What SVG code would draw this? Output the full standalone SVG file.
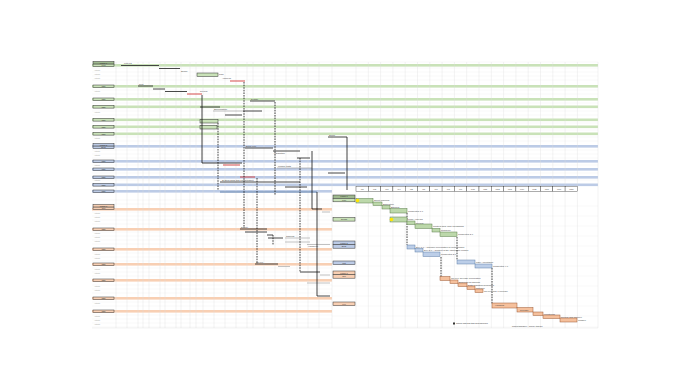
<svg xmlns="http://www.w3.org/2000/svg" width="690" height="388" viewBox="0 0 690 388">
<style>
.t{font-family:"Liberation Sans",Arial,sans-serif;font-size:2.3px;fill:#444}
.th{font-family:"Liberation Sans",Arial,sans-serif;font-size:2px;fill:#333}
.ts{font-family:"Liberation Sans",Arial,sans-serif;font-size:2px;fill:#999}
.grid line{stroke:#dcdcdc;stroke-width:0.35}
.rows line{stroke:#e8e8e8;stroke-width:0.3}
.bg{fill:#c9e2b8}
.bb{fill:#bccbe6}
.bo{fill:#f8cfb3}
.lg{fill:#c9e2b8;stroke:#333;stroke-width:0.5}
.lb{fill:#bccbe6;stroke:#333;stroke-width:0.5}
.lo{fill:#f8cfb3;stroke:#333;stroke-width:0.5}
.tk{stroke:#333;stroke-width:0.9}
.tr{stroke:#d23a3a;stroke-width:0.9}
.tg{stroke:#999;stroke-width:0.6}
.dash{stroke:#111;stroke-width:0.8;stroke-dasharray:1.6 1;fill:none}
.sol{stroke:#111;stroke-width:0.8;fill:none}
.gg{fill:#bcd8aa;stroke:#5d7e4c;stroke-width:0.5}
.gb{fill:#bccee8;stroke:#5f7fa8;stroke-width:0.5}
.go{fill:#f5c09c;stroke:#9c5a35;stroke-width:0.5}
.hc{fill:#fff;stroke:#333;stroke-width:0.4}
</style>
<rect width="690" height="388" fill="#fff"/>

<g id="rows" class="rows">
<line x1="92" y1="62" x2="598" y2="62"/><line x1="92" y1="68" x2="598" y2="68"/><line x1="92" y1="72" x2="598" y2="72"/><line x1="92" y1="76" x2="598" y2="76"/><line x1="92" y1="80" x2="598" y2="80"/><line x1="92" y1="90" x2="598" y2="90"/><line x1="92" y1="94" x2="598" y2="94"/><line x1="92" y1="103" x2="598" y2="103"/><line x1="92" y1="111" x2="598" y2="111"/><line x1="92" y1="115" x2="598" y2="115"/><line x1="92" y1="123" x2="598" y2="123"/><line x1="92" y1="130" x2="598" y2="130"/><line x1="92" y1="137" x2="598" y2="137"/><line x1="92" y1="141" x2="598" y2="141"/><line x1="92" y1="150" x2="598" y2="150"/><line x1="92" y1="154" x2="598" y2="154"/><line x1="92" y1="158" x2="598" y2="158"/><line x1="92" y1="165" x2="598" y2="165"/><line x1="92" y1="173" x2="598" y2="173"/><line x1="92" y1="180" x2="598" y2="180"/>
<line x1="92" y1="200" x2="332" y2="200"/><line x1="92" y1="204" x2="332" y2="204"/><line x1="92" y1="212" x2="332" y2="212"/><line x1="92" y1="216" x2="332" y2="216"/><line x1="92" y1="220" x2="332" y2="220"/><line x1="92" y1="224" x2="332" y2="224"/><line x1="92" y1="232" x2="332" y2="232"/><line x1="92" y1="236" x2="332" y2="236"/><line x1="92" y1="240" x2="332" y2="240"/><line x1="92" y1="244" x2="332" y2="244"/><line x1="92" y1="253" x2="332" y2="253"/><line x1="92" y1="257" x2="332" y2="257"/><line x1="92" y1="261" x2="332" y2="261"/><line x1="92" y1="268" x2="332" y2="268"/><line x1="92" y1="272" x2="332" y2="272"/><line x1="92" y1="276" x2="332" y2="276"/><line x1="92" y1="285" x2="332" y2="285"/><line x1="92" y1="289" x2="332" y2="289"/><line x1="92" y1="293" x2="332" y2="293"/><line x1="92" y1="302" x2="332" y2="302"/><line x1="92" y1="306" x2="332" y2="306"/><line x1="92" y1="315" x2="332" y2="315"/><line x1="92" y1="319" x2="332" y2="319"/><line x1="92" y1="323" x2="332" y2="323"/><line x1="92" y1="327" x2="332" y2="327"/>
<line x1="332" y1="206" x2="598" y2="206"/><line x1="332" y1="216" x2="598" y2="216"/><line x1="332" y1="226" x2="598" y2="226"/><line x1="332" y1="236" x2="598" y2="236"/><line x1="332" y1="246" x2="598" y2="246"/><line x1="332" y1="256" x2="598" y2="256"/><line x1="332" y1="266" x2="598" y2="266"/><line x1="332" y1="276" x2="598" y2="276"/><line x1="332" y1="286" x2="598" y2="286"/><line x1="332" y1="296" x2="598" y2="296"/><line x1="332" y1="306" x2="598" y2="306"/><line x1="332" y1="316" x2="598" y2="316"/><line x1="332" y1="327" x2="598" y2="327"/>
</g>

<g id="bands">
<rect class="bg" x="92" y="64" width="506" height="2.6"/>
<rect class="bg" x="92" y="85" width="506" height="2.6"/>
<rect class="bg" x="92" y="98" width="506" height="2.6"/>
<rect class="bg" x="92" y="105.5" width="506" height="2.6"/>
<rect class="bg" x="92" y="118.5" width="506" height="2.6"/>
<rect class="bg" x="92" y="125.5" width="506" height="2.6"/>
<rect class="bg" x="92" y="132.5" width="506" height="2.6"/>
<rect class="bb" x="92" y="145" width="506" height="2.6"/>
<rect class="bb" x="92" y="160" width="506" height="2.6"/>
<rect class="bb" x="92" y="168" width="506" height="2.6"/>
<rect class="bb" x="92" y="176" width="506" height="2.6"/>
<rect class="bb" x="92" y="183.5" width="506" height="2.6"/>
<rect class="bb" x="92" y="190" width="240" height="2.6"/>
<rect class="bo" x="92" y="208" width="240" height="2.6"/>
<rect class="bo" x="92" y="228" width="240" height="2.6"/>
<rect class="bo" x="92" y="248" width="240" height="2.6"/>
<rect class="bo" x="92" y="263" width="240" height="2.6"/>
<rect class="bo" x="92" y="279" width="240" height="2.6"/>
<rect class="bo" x="92" y="297" width="240" height="2.6"/>
<rect class="bo" x="92" y="310" width="240" height="2.6"/>
</g>

<g id="grid" class="grid">
<line x1="116" y1="62" x2="116" y2="328"/><line x1="127" y1="62" x2="127" y2="328"/><line x1="138" y1="62" x2="138" y2="328"/><line x1="143" y1="62" x2="143" y2="328"/><line x1="149" y1="62" x2="149" y2="328"/><line x1="160" y1="62" x2="160" y2="328"/><line x1="165" y1="62" x2="165" y2="328"/><line x1="176" y1="62" x2="176" y2="328"/><line x1="181" y1="62" x2="181" y2="328"/><line x1="190" y1="62" x2="190" y2="328"/><line x1="196" y1="62" x2="196" y2="328"/><line x1="203" y1="62" x2="203" y2="328"/><line x1="214" y1="62" x2="214" y2="328"/><line x1="225" y1="62" x2="225" y2="328"/><line x1="236" y1="62" x2="236" y2="328"/><line x1="247" y1="62" x2="247" y2="328"/><line x1="253" y1="62" x2="253" y2="328"/><line x1="264" y1="62" x2="264" y2="328"/><line x1="275" y1="62" x2="275" y2="328"/><line x1="286" y1="62" x2="286" y2="328"/><line x1="297" y1="62" x2="297" y2="328"/><line x1="308" y1="62" x2="308" y2="328"/><line x1="319" y1="62" x2="319" y2="328"/><line x1="332" y1="62" x2="332" y2="328"/>
<line x1="356" y1="62" x2="356" y2="328"/><line x1="368.3" y1="62" x2="368.3" y2="328"/><line x1="380.6" y1="62" x2="380.6" y2="328"/><line x1="392.9" y1="62" x2="392.9" y2="328"/><line x1="405.2" y1="62" x2="405.2" y2="328"/><line x1="417.5" y1="62" x2="417.5" y2="328"/><line x1="429.8" y1="62" x2="429.8" y2="328"/><line x1="442.1" y1="62" x2="442.1" y2="328"/><line x1="454.4" y1="62" x2="454.4" y2="328"/><line x1="466.7" y1="62" x2="466.7" y2="328"/><line x1="479" y1="62" x2="479" y2="328"/><line x1="491.3" y1="62" x2="491.3" y2="328"/><line x1="503.6" y1="62" x2="503.6" y2="328"/><line x1="515.9" y1="62" x2="515.9" y2="328"/><line x1="528.2" y1="62" x2="528.2" y2="328"/><line x1="540.5" y1="62" x2="540.5" y2="328"/><line x1="552.8" y1="62" x2="552.8" y2="328"/><line x1="565.1" y1="62" x2="565.1" y2="328"/><line x1="577.4" y1="62" x2="577.4" y2="328"/><line x1="598" y1="62" x2="598" y2="328"/>
<line x1="92" y1="328" x2="598" y2="328"/>
</g>

<g id="sub-labels">
<text class="ts" x="94" y="71">Activity</text><text class="ts" x="94" y="75">Activity</text><text class="ts" x="94" y="79">Activity</text>
<text class="ts" x="94" y="92">Activity</text><text class="ts" x="94" y="113">Activity</text><text class="ts" x="94" y="139">Activity</text>
<text class="ts" x="94" y="152">Activity</text><text class="ts" x="94" y="156">Activity</text><text class="ts" x="94" y="166">Activity</text><text class="ts" x="94" y="181">Activity</text>
<text class="ts" x="94" y="214">Activity</text><text class="ts" x="94" y="218">Activity</text><text class="ts" x="94" y="222">Activity</text><text class="ts" x="94" y="234">Activity</text><text class="ts" x="94" y="238">Activity</text><text class="ts" x="94" y="242">Activity</text>
<text class="ts" x="94" y="255">Activity</text><text class="ts" x="94" y="259">Activity</text><text class="ts" x="94" y="270">Activity</text><text class="ts" x="94" y="274">Activity</text><text class="ts" x="94" y="287">Activity</text><text class="ts" x="94" y="291">Activity</text>
<text class="ts" x="94" y="304">Activity</text><text class="ts" x="94" y="317">Activity</text><text class="ts" x="94" y="321">Activity</text><text class="ts" x="94" y="325">Activity</text>
</g>

<g id="left-labels">
<g id="L1"><rect x="93" y="61.5" width="21" height="2.6" fill="#9fb98f" stroke="#333" stroke-width="0.5"/><rect class="lg" x="93" y="64.1" width="21" height="2.6"/><text class="th" x="103.5" y="63.5" text-anchor="middle">Phase 1</text><text class="th" x="103.5" y="66.2" text-anchor="middle">Plan</text></g>
<g id="L2"><rect class="lg" x="93" y="85" width="21" height="2.6"/><text class="th" x="103.5" y="87.1" text-anchor="middle">Task</text></g>
<g id="L3"><rect class="lg" x="93" y="98" width="21" height="2.6"/><text class="th" x="103.5" y="100.1" text-anchor="middle">Task</text></g>
<g id="L4"><rect class="lg" x="93" y="105.5" width="21" height="2.6"/><text class="th" x="103.5" y="107.6" text-anchor="middle">Task</text></g>
<g id="L5"><rect class="lg" x="93" y="118.5" width="21" height="2.6"/><text class="th" x="103.5" y="120.6" text-anchor="middle">Task</text></g>
<g id="L6"><rect class="lg" x="93" y="125.5" width="21" height="2.6"/><text class="th" x="103.5" y="127.6" text-anchor="middle">Task</text></g>
<g id="L7"><rect class="lg" x="93" y="132.5" width="21" height="2.6"/><text class="th" x="103.5" y="134.6" text-anchor="middle">Task</text></g>
<g id="L8"><rect class="lb" x="93" y="143.5" width="21" height="2.6"/><rect class="lb" x="93" y="146.1" width="21" height="2.6"/><text class="th" x="103.5" y="145.5" text-anchor="middle">Phase 2</text><text class="th" x="103.5" y="148.2" text-anchor="middle">Build</text></g>
<g id="L9"><rect class="lb" x="93" y="160" width="21" height="2.6"/><text class="th" x="103.5" y="162.1" text-anchor="middle">Task</text></g>
<g id="L10"><rect class="lb" x="93" y="168" width="21" height="2.6"/><text class="th" x="103.5" y="170.1" text-anchor="middle">Task</text></g>
<g id="L11"><rect class="lb" x="93" y="176" width="21" height="2.6"/><text class="th" x="103.5" y="178.1" text-anchor="middle">Task</text></g>
<g id="L12"><rect class="lb" x="93" y="183.5" width="21" height="2.6"/><text class="th" x="103.5" y="185.6" text-anchor="middle">Task</text></g>
<g id="L13"><rect class="lb" x="93" y="190" width="21" height="2.6"/><text class="th" x="103.5" y="192.1" text-anchor="middle">Task</text></g>
<g id="L14"><rect class="lo" x="93" y="204.5" width="21" height="2.6"/><rect class="lo" x="93" y="207.1" width="21" height="2.6"/><text class="th" x="103.5" y="206.5" text-anchor="middle">Phase 3</text><text class="th" x="103.5" y="209.2" text-anchor="middle">Run</text></g>
<g id="L15"><rect class="lo" x="93" y="228" width="21" height="2.6"/><text class="th" x="103.5" y="230.1" text-anchor="middle">Task</text></g>
<g id="L16"><rect class="lo" x="93" y="248" width="21" height="2.6"/><text class="th" x="103.5" y="250.1" text-anchor="middle">Task</text></g>
<g id="L17"><rect class="lo" x="93" y="263" width="21" height="2.6"/><text class="th" x="103.5" y="265.1" text-anchor="middle">Task</text></g>
<g id="L18"><rect class="lo" x="93" y="279" width="21" height="2.6"/><text class="th" x="103.5" y="281.1" text-anchor="middle">Task</text></g>
<g id="L19"><rect class="lo" x="93" y="297" width="21" height="2.6"/><text class="th" x="103.5" y="299.1" text-anchor="middle">Task</text></g>
<g id="L20"><rect class="lo" x="93" y="310" width="21" height="2.6"/><text class="th" x="103.5" y="312.1" text-anchor="middle">Task</text></g>
</g>

<g id="left-tasks">
<line class="tk" x1="121" y1="65.5" x2="159" y2="65.5"/><text class="t" x="124" y="64">Kick-off</text>
<line class="tk" x1="159" y1="68.5" x2="180" y2="68.5"/><text class="t" x="181" y="71.5">Scope</text>
<rect class="lg" x="197" y="73" width="21" height="3.5"/><text class="t" x="219" y="74.5">Plan</text>
<line class="tk" x1="138" y1="86" x2="153" y2="86"/><text class="t" x="139" y="84.5">Req.</text>
<line class="tk" x1="153" y1="89" x2="165" y2="89"/>
<line class="tk" x1="165" y1="91.5" x2="187" y2="91.5"/><text class="t" x="200" y="91.5">Review</text>
<line class="tr" x1="187" y1="94" x2="202" y2="94"/>
<line class="tr" x1="230" y1="81" x2="245" y2="81"/><text class="t" x="222" y="79">Approval</text>
<line class="tk" x1="250" y1="101" x2="275" y2="101"/><text class="t" x="251" y="99.5">Design</text>
<line class="tk" x1="200" y1="107" x2="220" y2="107"/>
<line class="tg" x1="213" y1="111" x2="243" y2="111"/><text class="t" x="214" y="110">Specification</text>
<line class="tk" x1="243" y1="111" x2="262" y2="111"/>
<line class="tk" x1="225" y1="115" x2="242" y2="115"/>
<rect class="lg" x="200" y="119.5" width="18" height="3.5"/>
<rect class="lg" x="200" y="125.5" width="17" height="3.5"/>
<line class="tk" x1="328" y1="137" x2="347" y2="137"/><text class="t" x="329" y="135.5">Setup</text>
<line class="tk" x1="245" y1="148" x2="273" y2="148"/><text class="t" x="246" y="146.5">Build core</text>
<line class="tk" x1="273" y1="151" x2="300" y2="151"/><text class="t" x="274" y="154">Integration</text>
<line class="tk" x1="297" y1="158" x2="310" y2="158"/>
<line class="tr" x1="223" y1="165" x2="240" y2="165"/>
<line class="tg" x1="277" y1="168" x2="312" y2="168"/><text class="t" x="278" y="167">Module tests</text>
<line class="tk" x1="328" y1="173" x2="345" y2="173"/>
<line class="tr" x1="240" y1="177" x2="255" y2="177"/>
<line class="tk" x1="220" y1="182" x2="300" y2="182"/><text class="t" x="222" y="180.5">System build and configuration</text>
<line class="tk" x1="285" y1="187" x2="307" y2="187"/>
<line stroke="#5f7fa8" stroke-width="0.9" x1="220" y1="192" x2="317" y2="192"/>
<line class="tk" x1="312" y1="209" x2="322" y2="209"/>
<line class="tg" x1="322" y1="212" x2="330" y2="212"/>
<line class="tk" x1="240" y1="229" x2="267" y2="229"/><text class="t" x="241" y="227.5">Deploy</text>
<line class="tk" x1="245" y1="232" x2="267" y2="232"/>
<line class="tk" x1="267" y1="235" x2="273" y2="235"/>
<line class="tk" x1="268" y1="238" x2="283" y2="238"/>
<line class="tg" x1="285" y1="238" x2="310" y2="238"/><text class="t" x="286" y="237">Training</text>
<line class="tg" x1="285" y1="242" x2="310" y2="242"/>
<line class="tg" x1="307" y1="244.5" x2="330" y2="244.5"/><text class="t" x="308" y="247">Handover</text>
<line class="tk" x1="255" y1="264" x2="278" y2="264"/><text class="t" x="256" y="262.5">Go-live</text>
<line class="tg" x1="278" y1="266.5" x2="290" y2="266.5"/>
<line class="tk" x1="300" y1="272" x2="320" y2="272"/>
<line class="tg" x1="320" y1="275" x2="330" y2="275"/>
<line class="tg" x1="307" y1="283" x2="330" y2="283"/>
<line class="tk" x1="317" y1="296" x2="330" y2="296"/>
</g>

<g id="connectors">
<polyline class="sol" points="202,95 202,163 242,163"/>
<line class="dash" x1="218" y1="123" x2="218" y2="190"/>
<line class="dash" x1="244" y1="82" x2="244" y2="228"/>
<line class="dash" x1="275" y1="102" x2="275" y2="195"/>
<line class="dash" x1="257" y1="178" x2="257" y2="264"/>
<line class="dash" x1="300" y1="158" x2="300" y2="272"/>
<line class="sol" x1="312" y1="151" x2="312" y2="209"/>
<line class="sol" x1="317" y1="192" x2="317" y2="296"/>
<line class="sol" x1="347" y1="137" x2="347" y2="190"/>
<line class="dash" x1="273" y1="235" x2="273" y2="245"/>
<line class="dash" x1="407" y1="213" x2="407" y2="245"/>
<line class="dash" x1="441" y1="257" x2="441" y2="277"/>
<line class="dash" x1="457" y1="237" x2="457" y2="260"/>
<line class="dash" x1="492" y1="268" x2="492" y2="304"/>
</g>

<g id="header">
<rect class="hc" x="356" y="186.5" width="12.3" height="5"/><text class="th" x="362.2" y="189.7" text-anchor="middle">W1</text>
<rect class="hc" x="368.3" y="186.5" width="12.3" height="5"/><text class="th" x="374.5" y="189.7" text-anchor="middle">W2</text>
<rect class="hc" x="380.6" y="186.5" width="12.3" height="5"/><text class="th" x="386.8" y="189.7" text-anchor="middle">W3</text>
<rect class="hc" x="392.9" y="186.5" width="12.3" height="5"/><text class="th" x="399.1" y="189.7" text-anchor="middle">W4</text>
<rect class="hc" x="405.2" y="186.5" width="12.3" height="5"/><text class="th" x="411.4" y="189.7" text-anchor="middle">W5</text>
<rect class="hc" x="417.5" y="186.5" width="12.3" height="5"/><text class="th" x="423.7" y="189.7" text-anchor="middle">W6</text>
<rect class="hc" x="429.8" y="186.5" width="12.3" height="5"/><text class="th" x="436" y="189.7" text-anchor="middle">W7</text>
<rect class="hc" x="442.1" y="186.5" width="12.3" height="5"/><text class="th" x="448.3" y="189.7" text-anchor="middle">W8</text>
<rect class="hc" x="454.4" y="186.5" width="12.3" height="5"/><text class="th" x="460.6" y="189.7" text-anchor="middle">W9</text>
<rect class="hc" x="466.7" y="186.5" width="12.3" height="5"/><text class="th" x="472.9" y="189.7" text-anchor="middle">W10</text>
<rect class="hc" x="479" y="186.5" width="12.3" height="5"/><text class="th" x="485.2" y="189.7" text-anchor="middle">W11</text>
<rect class="hc" x="491.3" y="186.5" width="12.3" height="5"/><text class="th" x="497.5" y="189.7" text-anchor="middle">W12</text>
<rect class="hc" x="503.6" y="186.5" width="12.3" height="5"/><text class="th" x="509.8" y="189.7" text-anchor="middle">W13</text>
<rect class="hc" x="515.9" y="186.5" width="12.3" height="5"/><text class="th" x="522.1" y="189.7" text-anchor="middle">W14</text>
<rect class="hc" x="528.2" y="186.5" width="12.3" height="5"/><text class="th" x="534.4" y="189.7" text-anchor="middle">W15</text>
<rect class="hc" x="540.5" y="186.5" width="12.3" height="5"/><text class="th" x="546.7" y="189.7" text-anchor="middle">W16</text>
<rect class="hc" x="552.8" y="186.5" width="12.3" height="5"/><text class="th" x="559" y="189.7" text-anchor="middle">W17</text>
<rect class="hc" x="565.1" y="186.5" width="12.3" height="5"/><text class="th" x="571.3" y="189.7" text-anchor="middle">W18</text>
</g>

<g id="right-labels">
<g id="R1"><rect x="333" y="195" width="22" height="3.4" fill="#9fb98f" stroke="#333" stroke-width="0.5"/><rect class="lg" x="333" y="198.4" width="22" height="3.4"/><text class="th" x="344" y="197.4" text-anchor="middle">Phase 1</text><text class="th" x="344" y="200.8" text-anchor="middle">Plan</text></g>
<g id="R2"><rect class="lg" x="333" y="217.5" width="22" height="3.6"/><text class="th" x="344" y="220" text-anchor="middle">Design</text></g>
<g id="R3"><rect class="lb" x="333" y="241" width="22" height="3.6"/><rect class="lb" x="333" y="244.6" width="22" height="3.6"/><text class="th" x="344" y="243.5" text-anchor="middle">Phase 2</text><text class="th" x="344" y="247.1" text-anchor="middle">Build</text></g>
<g id="R4"><rect class="lb" x="333" y="261" width="22" height="3.6"/><text class="th" x="344" y="263.5" text-anchor="middle">Test</text></g>
<g id="R5"><rect class="lo" x="333" y="271" width="22" height="3.6"/><rect class="lo" x="333" y="274.6" width="22" height="3.6"/><text class="th" x="344" y="273.5" text-anchor="middle">Phase 3</text><text class="th" x="344" y="277.1" text-anchor="middle">Run</text></g>
<g id="R6"><rect class="lo" x="333" y="302" width="22" height="3.6"/><text class="th" x="344" y="304.5" text-anchor="middle">Live</text></g>
</g>

<g id="gantt">
<rect class="gg" x="356" y="198.5" width="17" height="4.5"/><text class="t" x="374" y="201">Sprint planning</text>
<rect class="gg" x="373" y="202" width="9" height="3.5"/><text class="t" x="383" y="204.5">Estimation</text>
<rect class="gg" x="382" y="205.5" width="8" height="3.5"/><text class="t" x="391" y="208">Backlog</text>
<rect class="gg" x="390" y="208.5" width="17" height="4.5"/><text class="t" x="408" y="211.5">Completed 1.0</text>
<rect class="gg" x="390" y="217" width="17" height="5"/><text class="t" x="408" y="219.5">Code Analysis</text>
<rect class="gg" x="407" y="221" width="8" height="3.5"/><text class="t" x="416" y="223.5">Review</text>
<rect class="gg" x="415" y="224" width="17" height="4.5"/><text class="t" x="433" y="227">Content New Web Workshops</text>
<rect class="gg" x="432" y="228.5" width="8" height="3.5"/><text class="t" x="441" y="231">Prototype</text>
<rect class="gg" x="440" y="232" width="17" height="4.5"/><text class="t" x="458" y="235">Completed 2.0</text>
<rect class="gb" x="407" y="245" width="8" height="4"/><text class="t" x="416" y="247.5">Dev 1.0 – Interface Preparation of Work Module</text>
<rect class="gb" x="415" y="248.5" width="8" height="3.5"/><text class="t" x="424" y="251">Dev 2.0 – Content of the Integration Module</text>
<rect class="gb" x="423" y="252" width="17" height="4.5"/><text class="t" x="441" y="255">Completed 3.0</text>
<rect class="gb" x="457" y="260" width="18" height="4"/><text class="t" x="476" y="262.5">User Acceptance</text>
<rect class="gb" x="475" y="264" width="17" height="4"/><text class="t" x="493" y="266.5">Completed 4.0</text>
<rect class="go" x="440" y="276.5" width="10" height="4"/><text class="t" x="451" y="279">Go-Live Release Preparation</text>
<rect class="go" x="450" y="280" width="8" height="3.5"/><text class="t" x="459" y="282.5">Business Readiness</text>
<rect class="go" x="458" y="283" width="9" height="3.5"/><text class="t" x="468" y="285.5">Data Migration Rehearsal</text>
<rect class="go" x="467" y="286" width="8" height="3.5"/><text class="t" x="476" y="288.5">Cut-over</text>
<rect class="go" x="475" y="289" width="8" height="3.5"/><text class="t" x="484" y="291.5">Go-Live and Hypercare</text>
<rect class="go" x="492" y="303" width="25" height="5"/><text class="t" x="495" y="306.3">Handling</text>
<rect class="go" x="517" y="307.5" width="16" height="4.5"/><text class="t" x="520" y="310.5">Release</text>
<rect class="go" x="533" y="312" width="10" height="3.5"/><text class="t" x="544" y="314.5">Monitoring</text>
<rect class="go" x="543" y="315" width="17" height="3.5"/><text class="t" x="561" y="317.5">Review and Improve</text>
<rect class="go" x="560" y="318" width="17" height="4"/><text class="t" x="578" y="321">Closure</text>
<circle cx="357.5" cy="200.5" r="1.8" fill="#ffe600"/>
<circle cx="391.5" cy="219.5" r="1.8" fill="#ffe600"/>
</g>

<g id="footer">
<rect x="453" y="322.5" width="2" height="2" fill="#333"/>
<text class="th" x="456" y="324.3">Critical path and task dependencies</text>
<text class="th" x="512" y="327">Project schedule – weekly timeline</text>
</g>
</svg>
